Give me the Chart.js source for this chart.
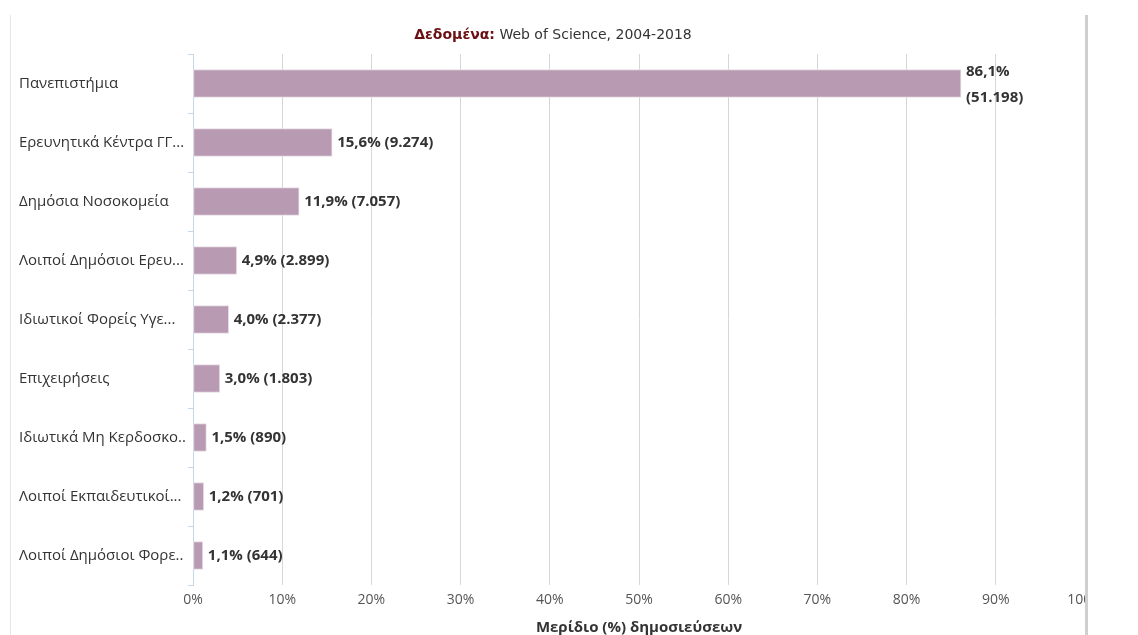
<!DOCTYPE html>
<html>
<head>
<meta charset="utf-8">
<script src="https://cdn.jsdelivr.net/npm/chart.js@4"></script>
<style>
  html, body { margin: 0; padding: 0; background: #fff; }
  #wrap { position: relative; width: 1138px; height: 635px; overflow: hidden; }
  #chart { position: absolute; left: 0; top: 0; }
  #leftEdge { position: absolute; left: 10px; top: 15px; width: 1px; height: 620px; background: #e6e6e6; }
  #rightEdge { position: absolute; left: 1085px; top: 15px; width: 53px; height: 620px; background: #fff; border-left: 3px solid #cfcfcf; box-sizing: border-box; }
</style>
</head>
<body>
<div id="wrap">
  <canvas id="chart" width="1138" height="635"></canvas>
  <div id="leftEdge"></div>
  <div id="rightEdge"></div>
</div>
<script>
const categories = [
    'Πανεπιστήμια',
    'Ερευνητικά Κέντρα ΓΓ...',
    'Δημόσια Νοσοκομεία',
    'Λοιποί Δημόσιοι Ερευ...',
    'Ιδιωτικοί Φορείς Υγε...',
    'Επιχειρήσεις',
    'Ιδιωτικά Μη Κερδοσκο..',
    'Λοιποί Εκπαιδευτικοί...',
    'Λοιποί Δημόσιοι Φορε..'
];
const shares = [86.1, 15.6, 11.9, 4.9, 4.0, 3.0, 1.5, 1.2, 1.1];
const counts = [51198, 9274, 7057, 2899, 2377, 1803, 890, 701, 644];
const xTicks = [0, 10, 20, 30, 40, 50, 60, 70, 80, 90, 100];

const titleBold = 'Δεδομένα:';
const titleRest = ' Web of Science, 2004-2018';
const xTitle = 'Μερίδιο (%) δημοσιεύσεων';

function fmtShare(v) {
    return v.toFixed(1).replace('.', ',') + '%';
}
function fmtCount(n) {
    return '(' + String(n).replace(/\B(?=(\d{3})+(?!\d))/g, '.') + ')';
}

// title drawn by hand because it mixes a bold red part and a plain part
const titlePlugin = {
    id: 'mixedTitle',
    afterDraw(chart) {
        const ctx = chart.ctx;
        ctx.save();
        ctx.textBaseline = 'middle';
        ctx.font = 'bold 14px "DejaVu Sans"';
        const w1 = ctx.measureText(titleBold).width;
        ctx.font = '14px "DejaVu Sans"';
        const w2 = ctx.measureText(titleRest).width;
        let x = 553 - (w1 + w2) / 2;
        const y = 35;
        ctx.textAlign = 'left';
        ctx.font = 'bold 14px "DejaVu Sans"';
        ctx.fillStyle = '#6b0f12';
        ctx.fillText(titleBold, x, y);
        ctx.font = '14px "DejaVu Sans"';
        ctx.fillStyle = '#333333';
        ctx.fillText(titleRest, x + w1, y);
        ctx.restore();
    }
};

// value labels at the end of each bar, wrapped when they would run off the plot
const labelPlugin = {
    id: 'barLabels',
    afterDatasetsDraw(chart) {
        const ctx = chart.ctx;
        const meta = chart.getDatasetMeta(0);
        ctx.save();
        ctx.font = 'bold 15px "Open Sans"';
        ctx.fillStyle = '#333333';
        ctx.textAlign = 'left';
        ctx.textBaseline = 'middle';
        meta.data.forEach((bar, i) => {
            const a = fmtShare(shares[i]);
            const b = fmtCount(counts[i]);
            const x = bar.x + 5;
            const full = a + ' ' + b;
            if (x + ctx.measureText(full).width > chart.chartArea.right - 20) {
                ctx.fillText(a, x, bar.y - 12);
                ctx.fillText(b, x, bar.y + 14);
            } else {
                ctx.fillText(full, x, bar.y);
            }
        });
        ctx.restore();
    }
};

new Chart(document.getElementById('chart').getContext('2d'), {
    type: 'bar',
    data: {
        labels: categories,
        datasets: [{
            data: shares,
            backgroundColor: '#b89bb3',
            borderColor: '#e6dbe4',
            borderWidth: 1,
            borderSkipped: false,
            barThickness: 28
        }]
    },
    options: {
        indexAxis: 'y',
        responsive: false,
        animation: false,
        layout: { padding: { left: 19, top: 54, right: 53, bottom: 0 } },
        plugins: {
            legend: { display: false },
            tooltip: { enabled: false }
        },
        scales: {
            x: {
                min: 0,
                max: 100,
                afterBuildTicks(scale) {
                    scale.ticks = xTicks.map(v => ({ value: v }));
                },
                afterFit(scale) { scale.height = 50; },
                grid: { color: '#d6d6d6', drawTicks: false },
                border: { display: false },
                ticks: {
                    padding: 7,
                    color: '#555555',
                    font: { family: '"Open Sans"', size: 14 },
                    callback: v => v + '%'
                },
                title: {
                    display: true,
                    text: xTitle,
                    color: '#333333',
                    font: { family: '"Open Sans"', size: 15, weight: 'bold' },
                    padding: { top: 2, bottom: -2 }
                }
            },
            y: {
                afterFit(scale) { scale.width = 174; },
                grid: { drawOnChartArea: false, color: '#c5d8ea', tickLength: 5, offset: true },
                border: { color: '#c5d8ea', width: 1 },
                ticks: {
                    crossAlign: 'far',
                    color: '#333333',
                    font: { family: '"Open Sans"', size: 15 }
                }
            }
        }
    },
    plugins: [titlePlugin, labelPlugin]
});
</script>
</body>
</html>
